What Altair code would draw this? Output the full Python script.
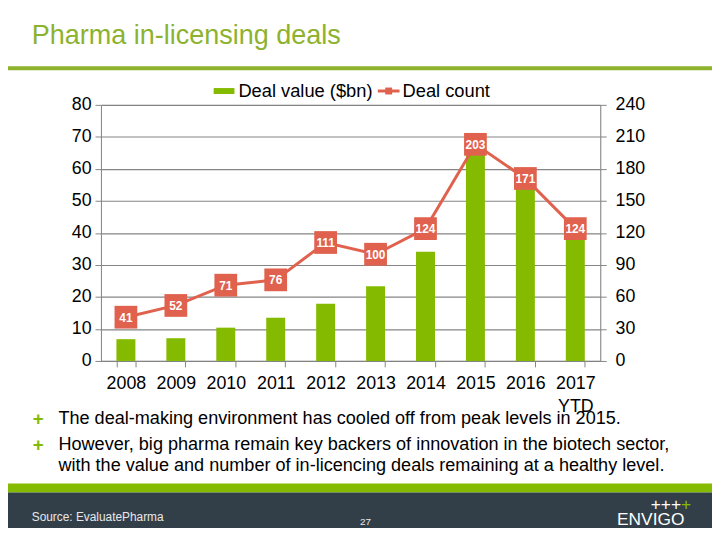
import altair as alt
import pandas as pd

# ---- data -------------------------------------------------------------
years = ["2008", "2009", "2010", "2011", "2012", "2013", "2014", "2015", "2016", "2017 YTD"]
deal_value = [6.8, 7.1, 10.4, 13.5, 17.9, 23.3, 34.1, 66, 56, 40]
deal_count = [41, 52, 71, 76, 111, 100, 124, 203, 171, 124]
series_names = ["Deal value ($bn)", "Deal count"]
left_ticks = [0, 10, 20, 30, 40, 50, 60, 70, 80]
right_ticks = [0, 30, 60, 90, 120, 150, 180, 210, 240]
title_text = "Pharma in-licensing deals"
bullet_lines = [
    "The deal-making environment has cooled off from peak levels in 2015.",
    "However, big pharma remain key backers of innovation in the biotech sector,",
    "with the value and number of in-licencing deals remaining at a healthy level.",
]
source_text = "Source: EvaluatePharma"
page_number = "27"
logo_text = "ENVIGO"

df = pd.DataFrame({"year": years, "value": deal_value, "count": deal_count})

FONT = "Liberation Sans"
BAR_GREEN = "#84BB00"
TITLE_GREEN = "#8DB22E"
RED = "#E0614D"
GRID = "#858585"
DARK = "#333F48"

one = pd.DataFrame({"a": [0]})

x_enc = alt.X(
    "year:N", sort=years,
    scale=alt.Scale(paddingInner=0.62, paddingOuter=0.31),
    axis=alt.Axis(title=None, labelAngle=0, labelExpr="split(datum.label, ' ')",
                  labelFont=FONT, labelFontSize=18, labelColor="#000000",
                  labelPadding=8, tickSize=6, tickBand="extent",
                  domainColor=GRID, tickColor=GRID, labelLineHeight=23),
)

bars = alt.Chart(df).mark_bar(color=BAR_GREEN).encode(
    x=x_enc,
    y=alt.Y("value:Q", scale=alt.Scale(domain=[0, 80], nice=False),
            axis=alt.Axis(title=None, orient="left", values=left_ticks, grid=True,
                          gridColor=GRID, gridWidth=1.2, domainColor=GRID, tickColor=GRID,
                          tickSize=6, labelPadding=4, labelFont=FONT, labelFontSize=18,
                          labelColor="#000000")),
)

line_base = alt.Chart(df).encode(
    x=x_enc,
    y=alt.Y("count:Q", scale=alt.Scale(domain=[0, 240], nice=False),
            axis=alt.Axis(title=None, orient="right", values=right_ticks, grid=False,
                          domainColor=GRID, tickColor=GRID, tickSize=6, labelPadding=9,
                          labelFont=FONT, labelFontSize=18, labelColor="#000000")),
)
line = line_base.mark_line(color=RED, strokeWidth=3)
boxes = line_base.mark_square(color=RED, size=529, opacity=1)
labels = line_base.mark_text(color="white", font=FONT, fontSize=12, fontWeight="bold",
                             baseline="middle", dy=0.5).encode(text="count:Q")
line_layer = alt.layer(line, boxes, labels)


def txt(s, x, y, size, color="#000000", weight="normal", align="left", baseline="middle"):
    return alt.Chart(pd.DataFrame({"t": [s]})).mark_text(
        font=FONT, fontSize=size, color=color, fontWeight=weight, align=align, baseline=baseline
    ).encode(x=alt.value(x), y=alt.value(y), text="t:N")


def box(x, x2, y, y2, color):
    return alt.Chart(one).mark_rect(color=color).encode(
        x=alt.value(x), x2=alt.value(x2), y=alt.value(y), y2=alt.value(y2))


# decorations (slide furniture), in plot coordinates (origin at page 102,103)
footer_green = box(-94, 618, 383, 392, BAR_GREEN)
footer_dark = box(-94, 618, 392, 430, DARK)
title_rule = box(-94, 618, -39, -35, TITLE_GREEN)
title = txt(title_text, -70, -62, 27.3, TITLE_GREEN, baseline="alphabetic")

leg_swatch = box(114, 135, -17, -11, BAR_GREEN)
leg_text1 = txt(series_names[0], 139, -14, 18.5)
leg_line = alt.Chart(one).mark_rule(color=RED, strokeWidth=3).encode(
    x=alt.value(280), x2=alt.value(302), y=alt.value(-14))
leg_marker = alt.Chart(one).mark_square(color=RED, size=49, opacity=1).encode(
    x=alt.value(291), y=alt.value(-14))
leg_text2 = txt(series_names[1], 305, -14, 18.5)

plus1 = txt("+", -69, 318, 19, BAR_GREEN, weight="bold")
plus2 = txt("+", -69, 344, 19, BAR_GREEN, weight="bold")
b1 = txt(bullet_lines[0], -43, 318, 18.3)
b2 = txt(bullet_lines[1], -43, 344, 18.3)
b3 = txt(bullet_lines[2], -43, 365, 18.3)

src = txt(source_text, -70, 417, 12, "#E8E8E8")
page = txt(page_number, 262, 422, 10, "#E8E8E8")
logo_plus = txt("+++", 556, 405, 17.5, "#FFFFFF")
logo_plus2 = txt("+", 586.7, 405, 17.5, BAR_GREEN)
logo = txt(logo_text, 522, 420, 17.5, "#FFFFFF")

chart = alt.layer(
    footer_green, footer_dark, title_rule, title,
    bars, line_layer,
    leg_swatch, leg_text1, leg_line, leg_marker, leg_text2,
    plus1, plus2, b1, b2, b3, src, page, logo_plus, logo_plus2, logo,
).resolve_scale(y="independent").properties(
    width=505, height=259,
    autosize=alt.AutoSizeParams(type="none"),
    padding={"left": 94, "top": 95, "right": 113, "bottom": 166},
).configure_view(stroke=None).configure(background="white")

chart.save("out.html", embed_options={"renderer": "svg", "actions": False})
